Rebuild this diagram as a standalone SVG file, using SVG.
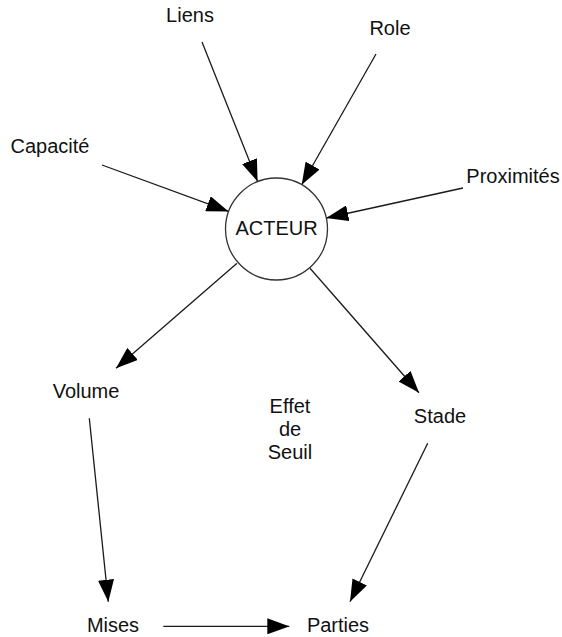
<svg xmlns="http://www.w3.org/2000/svg" width="562" height="637" viewBox="0 0 562 637">
  <style>
    .lbl { font-family: "Liberation Sans", Arial, sans-serif; font-size: 20px; fill: #111; text-anchor: middle; }
    .edge { stroke: #1a1a1a; stroke-width: 1.3; fill: none; marker-end: url(#arrow); }
    .actor { fill: #fff; stroke: #333; stroke-width: 1.3; }
  </style>
  <defs>
    <marker id="arrow" markerUnits="userSpaceOnUse" markerWidth="22" markerHeight="16" refX="22" refY="8" orient="auto">
      <path d="M0,0 L22,8 L0,16 z" fill="#000"/>
    </marker>
  </defs>
  <rect width="562" height="637" fill="#fff"/>

  <g id="connectors">
    <line class="edge" x1="202" y1="42" x2="257.6" y2="181.6"/>
    <line class="edge" x1="376" y1="54" x2="301.7" y2="184.7"/>
    <line class="edge" x1="102" y1="165" x2="228.6" y2="211.4"/>
    <line class="edge" x1="463" y1="188" x2="326.3" y2="218"/>
    <line class="edge" x1="237" y1="263.3" x2="116" y2="368.3"/>
    <line class="edge" x1="310" y1="268.3" x2="419" y2="392.7"/>
    <line class="edge" x1="89.3" y1="418.3" x2="108.3" y2="601.7"/>
    <line class="edge" x1="427.7" y1="443.3" x2="350" y2="601.7"/>
    <line class="edge" x1="163.3" y1="626.3" x2="289.3" y2="626.3"/>
  </g>

  <g id="acteur">
    <circle class="actor" cx="276.5" cy="229" r="51"/>
    <text class="lbl" x="276.5" y="235">ACTEUR</text>
  </g>
  <g id="liens"><text class="lbl" x="190" y="22">Liens</text></g>
  <g id="role"><text class="lbl" x="390" y="35">Role</text></g>
  <g id="capacite"><text class="lbl" x="50" y="153">Capacité</text></g>
  <g id="proximites"><text class="lbl" x="513" y="183">Proximités</text></g>
  <g id="volume"><text class="lbl" x="86" y="398">Volume</text></g>
  <g id="stade"><text class="lbl" x="440" y="423">Stade</text></g>
  <g id="effet-de-seuil">
    <text class="lbl" x="290" y="413">Effet</text>
    <text class="lbl" x="290" y="436">de</text>
    <text class="lbl" x="290" y="459">Seuil</text>
  </g>
  <g id="mises"><text class="lbl" x="113" y="632">Mises</text></g>
  <g id="parties"><text class="lbl" x="338" y="632">Parties</text></g>
</svg>
